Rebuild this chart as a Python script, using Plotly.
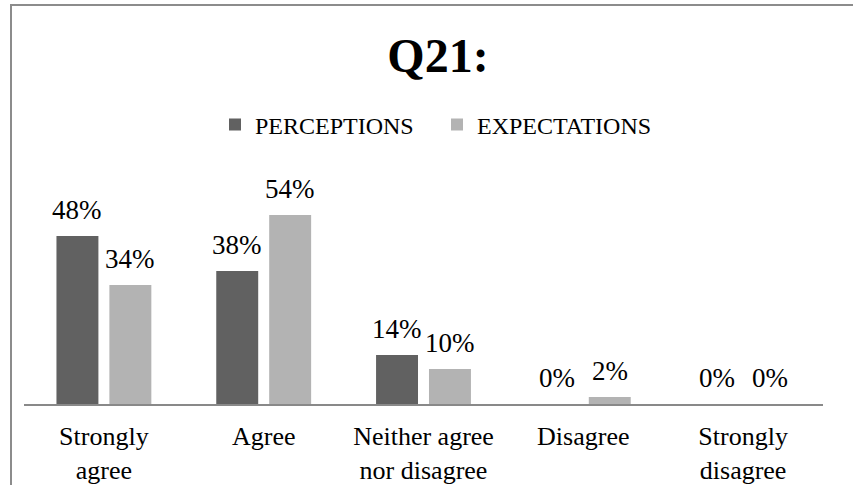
import plotly.graph_objects as go

categories = ["Strongly<br>agree", "Agree", "Neither agree<br>nor disagree", "Disagree", "Strongly<br>disagree"]
perceptions = [48, 38, 14, 0, 0]
expectations = [34, 54, 10, 2, 0]
series_names = ["PERCEPTIONS", "EXPECTATIONS"]
series_colors = ["#616161", "#b3b3b3"]

FONT = "Liberation Serif"
W, H = 853, 485
ml, mr, mt, mb = 24, 30, 180, 81
plot_w = W - ml - mr
plot_h = H - mt - mb
ymax = plot_h / 3.5

fig = go.Figure()
for name, vals, col in zip(series_names, [perceptions, expectations], series_colors):
    fig.add_trace(go.Bar(x=categories, y=vals, name=name, marker=dict(color=col, line=dict(width=0))))

# data labels
slot = plot_w / 5 * (1 - 0.3375) / 2
for i, (vals, sgn) in enumerate([(perceptions, -1), (expectations, 1)]):
    for c, v in zip(categories, vals):
        fig.add_annotation(x=c, y=v, text=f"{v}%", showarrow=False, yanchor="bottom",
                           xshift=sgn * slot / 2, yshift=9,
                           font=dict(family=FONT, size=27, color="#000000"))

# outer border (partially cropped frame)
fig.add_shape(type="rect", xref="paper", yref="paper",
              x0=(11 - ml) / plot_w, x1=1.2, y0=-1, y1=(H - mb - 5) / plot_h,
              line=dict(color="#8c8c8c", width=2), fillcolor="rgba(0,0,0,0)")

fig.update_layout(
    width=W, height=H,
    margin=dict(l=ml, r=mr, t=mt, b=mb, autoexpand=False),
    paper_bgcolor="white", plot_bgcolor="white",
    barmode="group", bargap=0.3375, bargroupgap=0.2075,
    title=dict(text="<b>Q21:</b>", x=438 / W, xanchor="center", y=1 - 55 / H, yanchor="middle",
               font=dict(family=FONT, size=48, color="#000000")),
    legend=dict(orientation="h", x=(215 - ml) / plot_w, xanchor="left", y=(H - mb - 125) / plot_h,
                yanchor="middle", font=dict(family=FONT, size=24, color="#000000"),
                entrywidth=177, entrywidthmode="pixels",
                bgcolor="rgba(0,0,0,0)"),
    font=dict(family=FONT, color="#000000"),
    showlegend=True,
)
fig.update_xaxes(showline=True, linecolor="#898989", linewidth=1.5, ticks="", showgrid=False,
                 automargin=False,
                 tickfont=dict(family=FONT, size=26, color="#000000"), ticklabelstandoff=8)
fig.update_yaxes(visible=False, range=[0, ymax], showgrid=False, zeroline=False, automargin=False)

fig.write_html("out.html", post_script="document.body.style.margin='0px';",
               config={"displayModeBar": False})
